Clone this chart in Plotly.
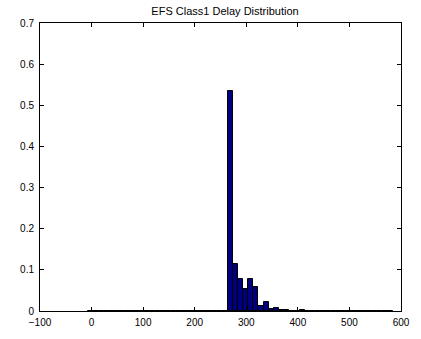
import plotly.graph_objects as go

# Histogram data (bin width 10, first bin edge at -6.4)
bin_first_edge = -6.4
bin_width = 10.0
frequencies = [
    0.001, 0.001, 0.001, 0.001, 0.001, 0.001, 0.001, 0.001, 0.001, 0.001,
    0.001, 0.001, 0.001, 0.001, 0.001, 0.001, 0.001, 0.001, 0.001, 0.001,
    0.001, 0.001, 0.001, 0.001, 0.001, 0.001, 0.001,
    0.535, 0.114, 0.078, 0.054, 0.078, 0.059, 0.013, 0.021, 0.004, 0.008,
    0.0025, 0.0025, 0.001, 0.001, 0.003,
    0.001, 0.001, 0.001, 0.001, 0.001, 0.001, 0.001, 0.001, 0.001, 0.001,
    0.001, 0.001, 0.001, 0.001, 0.001, 0.001, 0.001,
]
bin_centers = [bin_first_edge + bin_width * (i + 0.5) for i in range(len(frequencies))]

x_ticks = [-100, 0, 100, 200, 300, 400, 500, 600]
y_ticks = [0, 0.1, 0.2, 0.3, 0.4, 0.5, 0.6, 0.7]
y_tick_labels = ["0", "0.1", "0.2", "0.3", "0.4", "0.5", "0.6", "0.7"]

fig = go.Figure()
fig.add_trace(go.Bar(
    x=bin_centers,
    y=frequencies,
    width=bin_width,
    marker=dict(color="#00007f", line=dict(color="black", width=1)),
    hoverinfo="x+y",
))

axis_common = dict(
    showgrid=False,
    zeroline=False,
    showline=True,
    linecolor="black",
    linewidth=1,
    mirror="ticks",
    ticks="inside",
    ticklen=4,
    tickcolor="black",
    tickfont=dict(family="Liberation Sans, Arial, sans-serif", size=10, color="black"),
)

fig.update_layout(
    width=421,
    height=339,
    margin=dict(l=40, r=11, t=23, b=17),
    paper_bgcolor="white",
    plot_bgcolor="white",
    showlegend=False,
    bargap=0,
    title=dict(
        text="EFS Class1 Delay Distribution",
        x=(40 + 410) / 2 / 421,
        xanchor="center",
        y=1 - 11 / 339,
        yanchor="middle",
        font=dict(family="Liberation Sans, Arial, sans-serif", size=11, color="black"),
    ),
    xaxis=dict(range=[-100, 600], tickvals=x_ticks, ticklabelstandoff=2, **axis_common),
    yaxis=dict(range=[0, 0.7], tickvals=y_ticks, ticktext=y_tick_labels, ticklabelstandoff=3, **axis_common),
)

fig.write_html(
    "out.html",
    config={"displayModeBar": False},
    post_script=(
        "document.body.style.margin='0';document.body.style.padding='0';"
        "document.body.style.overflow='hidden';"
    ),
)
